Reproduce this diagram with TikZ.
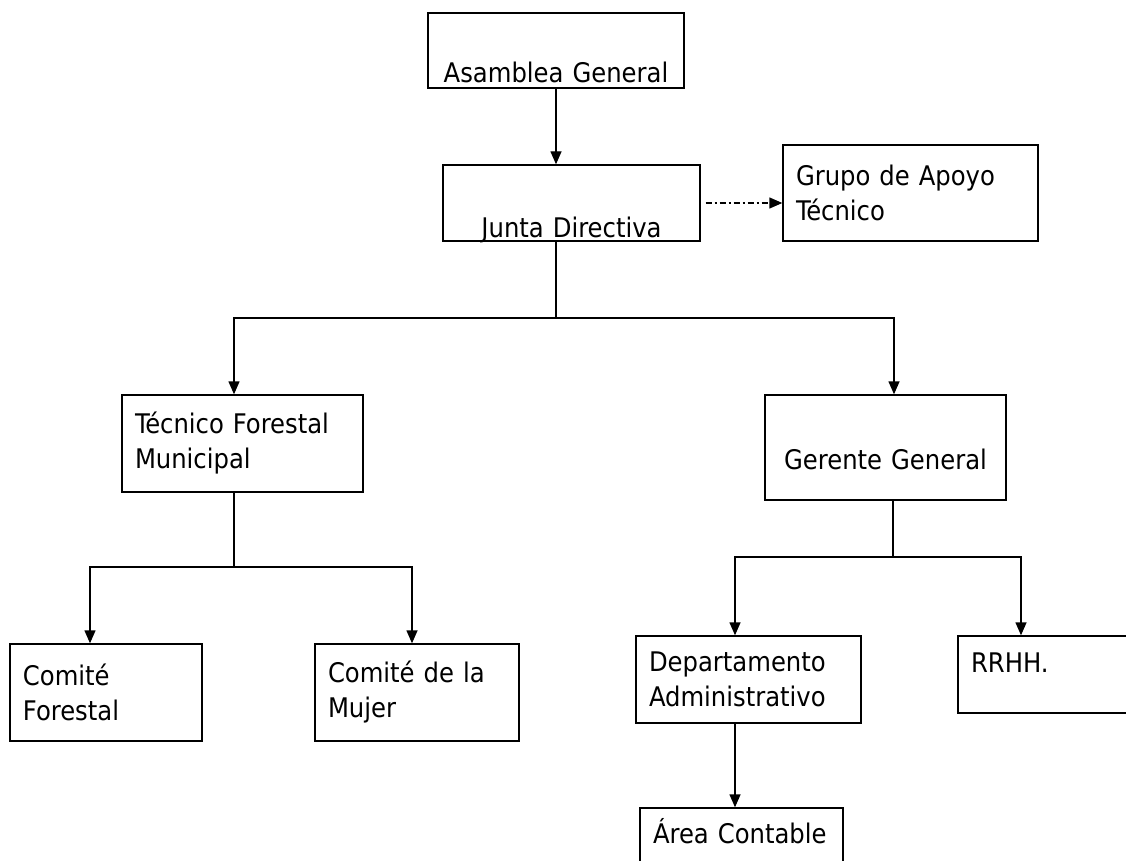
\documentclass[tikz,border=0pt]{standalone}
\usepackage{fontspec}
\setmainfont{DejaVu Sans Condensed}
\usetikzlibrary{arrows.meta}
\begin{document}
\begin{tikzpicture}[x=1pt,y=-1pt,
				every node/.style={font=\fontsize{27}{35}\selectfont},
				box/.style={draw,rectangle,line width=1.4pt,inner xsep=13pt,inner ysep=0pt,align=left},
				cbox/.style={box,align=center},
				conn/.style={line width=1.4pt},
				arr/.style={conn,-{Triangle[length=13pt,width=11pt]}}]
\path[use as bounding box,clip] (0,0) rectangle (1126,861);
\node[cbox,text width=230pt,minimum height=75pt,text height=69pt,text depth=4pt] (asamblea) at (556,50.5) {Asamblea General};
\node[cbox,text width=231pt,minimum height=76pt,text height=72pt,text depth=4pt] (junta) at (571.5,203) {Junta Directiva};
\node[box,text width=229pt,minimum height=96pt] (grupo) at (910.5,193) {Grupo de Apoyo\\T\'ecnico};
\node[box,text width=215pt,minimum height=97pt] (tfm) at (242.5,443.5) {T\'ecnico Forestal\\Municipal};
\node[cbox,text width=215pt,minimum height=105pt,text height=46pt,text depth=3pt] (gerente) at (885.5,447.5) {Gerente General};
\node[box,text width=166pt,minimum height=97pt] (cf) at (106,692.5) {Comit\'e\\Forestal};
\node[box,text width=178pt,minimum height=97pt] (cm) at (417,692.5) {Comit\'e de la\\Mujer};
\node[box,text width=199pt,minimum height=87pt] (depto) at (748.5,679.5) {Departamento\\Administrativo};
\node[box,text width=154pt,minimum height=77pt,text height=18pt,text depth=23pt] (rrhh) at (1048,674.5) {RRHH.};
\node[box,text width=177pt,minimum height=70pt,text height=18pt,text depth=18pt] (area) at (741.5,843) {\'Area Contable};

\coordinate (jbus) at (556,318);
\coordinate (tdrop) at (234,318);
\coordinate (gdrop) at (894,318);
\coordinate (tbus) at (234,567);
\coordinate (cfdrop) at (90,567);
\coordinate (cmdrop) at (412,567);
\coordinate (gbus) at (893,557);
\coordinate (ddrop) at (735,557);
\coordinate (rdrop) at (1021,557);

\draw[arr] (asamblea.south) -- (asamblea.south |- junta.north);
\draw[arr,dash pattern=on 6pt off 3pt on 2pt off 3pt] ([xshift=5pt]junta.east) -- (junta.east -| grupo.west);
\draw[conn] (jbus |- junta.south) -- (jbus);
\draw[arr] (jbus) -- (tdrop) -- (tdrop |- tfm.north);
\draw[arr] (jbus) -- (gdrop) -- (gdrop |- gerente.north);
\draw[conn] (tbus |- tfm.south) -- (tbus);
\draw[arr] (tbus) -- (cfdrop) -- (cfdrop |- cf.north);
\draw[arr] (tbus) -- (cmdrop) -- (cmdrop |- cm.north);
\draw[conn] (gbus |- gerente.south) -- (gbus);
\draw[arr] (gbus) -- (ddrop) -- (ddrop |- depto.north);
\draw[arr] (gbus) -- (rdrop) -- (rdrop |- rrhh.north);
\draw[arr] (ddrop |- depto.south) -- (ddrop |- area.north);
\end{tikzpicture}
\end{document}
